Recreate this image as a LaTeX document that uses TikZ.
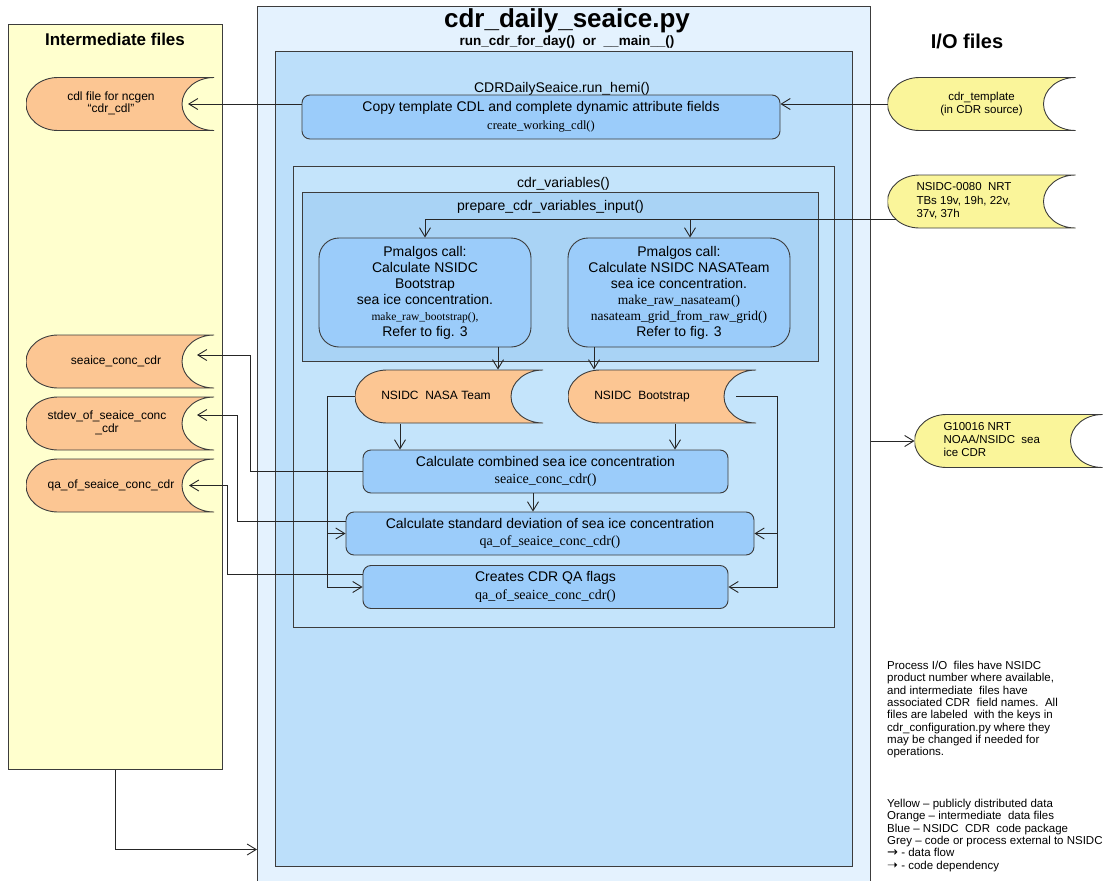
\documentclass[tikz,border=0pt]{standalone}
\usepackage{fontspec}
\setmainfont{Liberation Sans}
\newfontfamily\codefont{Liberation Serif}
\newfontfamily\symbolfont{DejaVu Sans}
\usetikzlibrary{arrows.meta}

\definecolor{padyellow}{HTML}{FFFFCE}
\definecolor{outerblue}{HTML}{E4F2FE}
\definecolor{hemiblue}{HTML}{BCDFFA}
\definecolor{varblue}{HTML}{C4E4FB}
\definecolor{prepblue}{HTML}{A9D3F5}
\definecolor{procblue}{HTML}{9BCCFA}
\definecolor{fileorange}{HTML}{FCC693}
\definecolor{fileyellow}{HTML}{FAF59A}
\definecolor{edgegrey}{HTML}{3C3C3C}

\newcommand{\fsize}[2]{\fontsize{#1}{#2}\selectfont}
\newcommand{\filetext}[2][18pt]{\begin{tabular}{@{}c@{}}#2\end{tabular}\kern#1\relax}
\newcommand{\iotext}[1]{\makebox[130pt][l]{\begin{tabular}{@{}l@{}}#1\end{tabular}}}

\begin{document}
\begin{tikzpicture}[
    x=1pt, y=-1pt,
    panel/.style={draw=edgegrey, line width=1pt, anchor=north west, inner sep=0pt},
    procbox/.style={draw=edgegrey, fill=procblue, line width=0.9pt, rounded corners=8pt, align=center, inner sep=0pt, font=\fsize{14}{17.5}},
    callbox/.style={procbox, rounded corners=20pt, font=\fsize{14}{16}},
    paneltitle/.style={anchor=base, font=\fsize{14}{16}},
    datafile/.style={inner sep=0pt, outer sep=0pt, minimum width=188pt, minimum height=54pt, font=\fsize{12}{12.5},
        path picture={
            \draw[fill=#1, draw=edgegrey, line width=0.9pt]
                ([xshift=32pt,yshift=-0.5pt]path picture bounding box.north west)
                -- ([yshift=-0.5pt]path picture bounding box.north east)
                arc[start angle=90, end angle=270, x radius=32pt, y radius=26.5pt]
                -- ([xshift=32pt,yshift=0.5pt]path picture bounding box.south west)
                arc[start angle=270, end angle=90, x radius=32pt, y radius=26.5pt]
                -- cycle;
        }},
    arr/.style={-{Straight Barb[length=9pt,width=11pt]}, line width=0.9pt, draw=black!85}
]
    \useasboundingbox (0,0) rectangle (1112,881);

    % Panels
    \node[panel, fill=padyellow, minimum width=214pt, minimum height=745pt] (yellowpanel) at (8,24) {};
    \node[panel, fill=outerblue, minimum width=613pt, minimum height=880pt] (mainpanel) at (257,6) {};
    \node[panel, fill=hemiblue, minimum width=577pt, minimum height=815pt] (hemipanel) at (275,51) {};
    \node[panel, fill=varblue, minimum width=541pt, minimum height=461pt] (varpanel) at (293,166) {};
    \node[panel, fill=prepblue, minimum width=516pt, minimum height=169pt] (preppanel) at (302,192) {};

    % Titles
    \node[anchor=base, font=\fsize{17}{20}\bfseries] (interlabel) at (115,45) {Intermediate files};
    \node[anchor=base, font=\fsize{20}{24}\bfseries] (iolabel) at (967,48) {I/O files};
    \node[anchor=base, font=\fsize{26}{30}\bfseries] (title) at (567,27) {cdr\_daily\_seaice.py};
    \node[anchor=base, font=\fsize{13.5}{16}\bfseries] (subtitle) at (567,45) {run\_cdr\_for\_day()\ \ or\ \ \_\_main\_\_()};
    \node[paneltitle] (hemilabel) at (562,92) {CDRDailySeaice.run\_hemi()};
    \node[paneltitle] (varlabel) at (563.5,187) {cdr\_variables()};
    \node[paneltitle] (preplabel) at (550.5,210) {prepare\_cdr\_variables\_input()};

    % Code steps
    \node[procbox, minimum width=478pt, minimum height=44pt] (copybox) at (541,117)
        {Copy template CDL and complete dynamic attribute fields\\{\codefont\fsize{12.5}{17.5}create\_working\_cdl()}};
    \node[callbox, minimum width=212pt, minimum height=109pt] (bootbox) at (425,292.5)
        {Pmalgos call:\\Calculate NSIDC\\Bootstrap\\sea ice concentration.\\{\codefont\fsize{11.5}{16}make\_raw\_bootstrap(),}\\Refer to fig. 3};
    \node[callbox, minimum width=222pt, minimum height=109pt] (nasabox) at (679,292.5)
        {Pmalgos call:\\Calculate NSIDC NASATeam\\sea ice concentration.\\{\codefont\fsize{13.5}{16}make\_raw\_nasateam()}\\{\codefont\fsize{13.5}{16}nasateam\_grid\_from\_raw\_grid()}\\Refer to fig. 3};
    \node[procbox, minimum width=365pt, minimum height=43pt] (combined) at (545.5,471.5)
        {Calculate combined sea ice concentration\\{\codefont\fsize{14}{17.5}seaice\_conc\_cdr()}};
    \node[procbox, minimum width=408pt, minimum height=43pt] (stdev) at (550,533.5)
        {Calculate standard deviation of sea ice concentration\\{\codefont\fsize{14}{17.5}qa\_of\_seaice\_conc\_cdr()}};
    \node[procbox, minimum width=365pt, minimum height=43pt] (qa) at (545.5,587)
        {Creates CDR QA flags\\{\codefont\fsize{14}{17.5}qa\_of\_seaice\_conc\_cdr()}};

    % Intermediate files
    \node[datafile=fileorange] (cdl) at (120,104) {\filetext{cdl file for ncgen\\“cdr\_cdl”}};
    \node[datafile=fileorange] (seaiceout) at (120,361.5) {\filetext[8pt]{seaice\_conc\_cdr}};
    \node[datafile=fileorange] (stdevout) at (120,423.5) {\filetext[26pt]{stdev\_of\_seaice\_conc\\\_cdr}};
    \node[datafile=fileorange] (qaout) at (120,485.5) {\filetext{qa\_of\_seaice\_conc\_cdr}};
    \node[datafile=fileorange] (nasateam) at (449,396.5) {\filetext[26pt]{NSIDC\ \ NASA Team}};
    \node[datafile=fileorange] (bootstrap) at (662,396.5) {\filetext[40pt]{NSIDC\ \ Bootstrap}};

    % I/O files
    \node[datafile=fileyellow, font=\fsize{11.5}{13}] (template) at (981.5,104) {\raisebox{9pt}{\begin{tabular}{@{}c@{}}cdr\_template\\(in CDR source)\end{tabular}}};
    \node[datafile=fileyellow, font=\fsize{11.5}{13.5}] (tbnode) at (981.5,201.5) {\iotext{NSIDC-0080\ \ NRT\\TBs 19v, 19h, 22v,\\37v, 37h}};
    \node[datafile=fileyellow, font=\fsize{11.5}{13}] (gnode) at (1008.5,441) {\iotext{G10016 NRT\\NOAA/NSIDC\ \ sea\\ice CDR}};
    \coordinate (tbin) at ([xshift=8pt,yshift=-17.5pt]tbnode.west);

    % Notes
    \node[anchor=north west, align=left, inner sep=0pt, font=\fsize{11.5}{12.3}] (note) at (887,661)
        {Process I/O\ \ files have NSIDC\\product number where available,\\and intermediate\ \ files have\\associated CDR\ \ field names.\ \ All\\files are labeled\ \ with the keys in\\cdr\_configuration.py where they\\may be changed if needed for\\operations.};
    \node[anchor=north west, align=left, inner sep=0pt, font=\fsize{11.5}{12.3}] (legend) at (887,799)
        {Yellow – publicly distributed data\\Orange – intermediate\ \ data files\\Blue – NSIDC\ \ CDR\ \ code package\\Grey – code or process external to NSIDC\\{\symbolfont\fsize{13}{12.3}→}\ - data flow\\{\symbolfont\fsize{13}{12.3}➝}\ - code dependency};

    % Connections
    \draw[arr] (template.west) -- ([yshift=13pt]copybox.east);
    \draw[arr] ([yshift=13pt]copybox.west) -- ([xshift=-26pt]cdl.east);
    \draw[arr] (tbin) -| (bootbox.north);
    \draw[arr] (tbin) -| ([xshift=11pt]nasabox.north);
    \draw[arr] ([xshift=73pt]bootbox.south) -- ([xshift=49pt]nasateam.north);
    \draw[arr] ([xshift=-85pt]nasabox.south) -- ([xshift=-68pt]bootstrap.north);
    \draw[arr] ([xshift=-49pt]nasateam.south) -- ([xshift=-145.5pt]combined.north);
    \draw[arr] ([xshift=13pt]bootstrap.south) -- ([xshift=129.5pt]combined.north);
    \draw[arr] ([xshift=-12.5pt]combined.south) -- ([xshift=-17pt]stdev.north);
    \draw[arr] (nasateam.west) -- ++(-28,0) |- (stdev.west);
    \draw[arr] (nasateam.west) -- ++(-28,0) |- (qa.west);
    \draw[arr] ([xshift=-20pt]bootstrap.east) -- ++(41,0) |- (stdev.east);
    \draw[arr] ([xshift=-20pt]bootstrap.east) -- ++(41,0) |- (qa.east);
    \draw[arr] (combined.west) -- ++(-112,0) |- ([xshift=-17pt,yshift=6.5pt]seaiceout.east);
    \draw[arr] ([yshift=12.5pt]stdev.west) -- ++(-108,0) |- ([xshift=-17pt,yshift=8.5pt]stdevout.east);
    \draw[arr] ([yshift=13pt]qa.west) -- ++(-135.5,0) |- ([xshift=-25pt]qaout.east);
    \draw[arr] (mainpanel.east |- gnode.west) -- (gnode.west);
    \draw[arr] (yellowpanel.south) |- ([yshift=-403pt]mainpanel.west);
\end{tikzpicture}
\end{document}
